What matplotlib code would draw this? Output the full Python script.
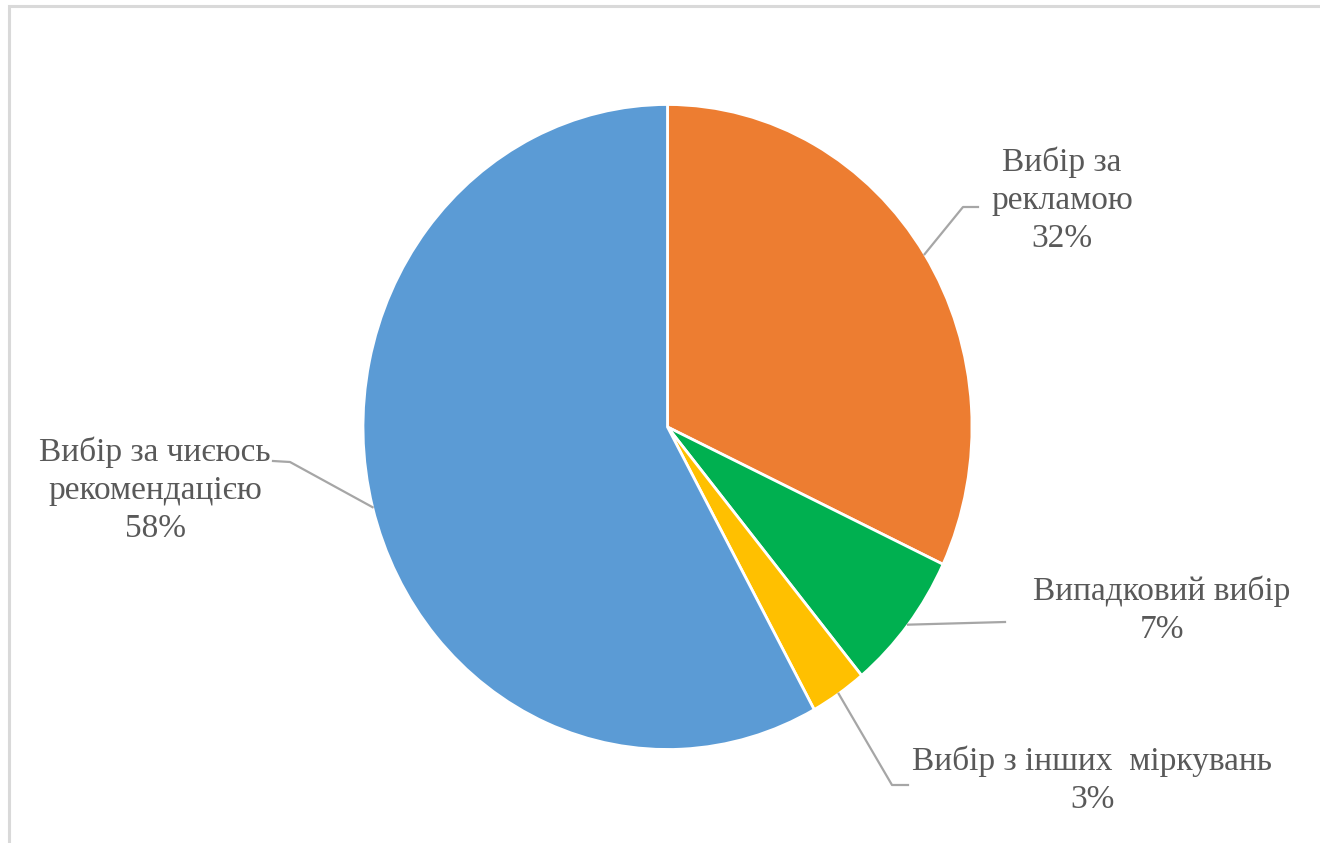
import numpy as np
import matplotlib.pyplot as plt
from matplotlib.patches import Rectangle

labels = ["Вибір за\nрекламою", "Випадковий вибір", "Вибір з інших  міркувань",
          "Вибір за чиєюсь\nрекомендацією"]
shares = [32, 7, 3, 58]
colors = ["#ED7D31", "#00B050", "#FFC000", "#5B9BD5"]

# label anchor (text centre, px), elbow and end of leader line (px)
text_pos = [(1062, 200), (1162, 610), (1092, 780), (155, 490)]
leader = [[(963, 207), (978, 207)],
          [(1005, 622)],
          [(892, 785), (908, 785)],
          [(290, 462), (273, 461)]]

W, H = 1320, 843
cx, cy, rx, ry = 667.5, 427, 304.5, 322.5

def px(x, y):
    return ((x - cx) / rx, (cy - y) / ry)

fig = plt.figure(figsize=(W / 100, H / 100), dpi=100)
ax = fig.add_axes([0, 0, 1, 1])

wedges, _ = ax.pie(shares, colors=colors, startangle=90, counterclock=False,
                   radius=1, center=(0, 0), frame=True,
                   wedgeprops=dict(edgecolor="white", linewidth=2))
ax.set_aspect("auto")
ax.set_xlim(-cx / rx, (W - cx) / rx)
ax.set_ylim(-(H - cy) / ry, cy / ry)
ax.axis("off")

txt_col = "#595959"
for w, lab, v, tp, pts in zip(wedges, labels, shares, text_pos, leader):
    mid = np.deg2rad((w.theta1 + w.theta2) / 2)
    xs = [np.cos(mid)] + [px(*p)[0] for p in pts]
    ys = [np.sin(mid)] + [px(*p)[1] for p in pts]
    ax.plot(xs, ys, color="#A6A6A6", lw=1.6, clip_on=False)
    tx, ty = px(*tp)
    ax.text(tx, ty, f"{lab}\n{v}%", ha="center", va="center",
            fontsize=24, family="Liberation Serif", color=txt_col,
            linespacing=1.31)

fig.patches.append(Rectangle((9 / W, -0.1), 1.2, 1.1 - 6 / H,
                             transform=fig.transFigure, fill=False,
                             edgecolor="#D9D9D9", lw=2.2))

fig.savefig("out.png", dpi=100)
